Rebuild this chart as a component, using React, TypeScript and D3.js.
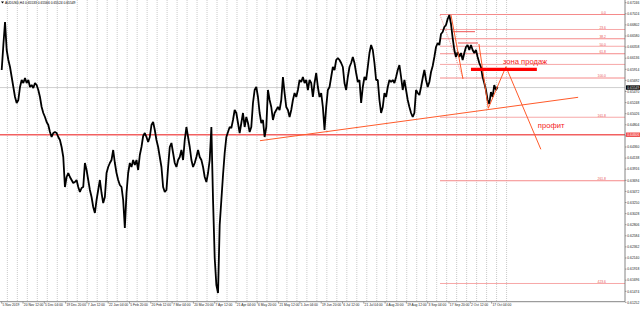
import React from "react";
import * as d3 from "d3";

const title = "AUDUSD,H4  0.65533 0.65566 0.65524 0.65549";

const dateLabels = [
  "5 Nov 2019", "20 Nov 12:00", "5 Dec 04:00", "19 Dec 20:00", "7 Jan 12:00", "22 Jan 04:00",
  "5 Feb 20:00", "20 Feb 12:00", "7 Mar 04:00", "20 Mar 20:00", "7 Apr 12:00", "21 Apr 04:00",
  "6 May 20:00", "21 May 12:00", "5 Jun 04:00", "19 Jun 20:00", "6 Jul 12:00", "21 Jul 04:00",
  "4 Aug 20:00", "19 Aug 12:00", "3 Sep 04:00", "17 Sep 20:00", "2 Oct 12:00", "17 Oct 04:00",
];
const barsPerLabel = 64;
const barsPerSample = 5;

// close prices, one every 5 H4 bars
const closes = [
  0.6590, 0.6640, 0.6686, 0.6630, 0.6610, 0.6596, 0.6576, 0.6556, 0.6536, 0.6524,
  0.6530, 0.6556, 0.6570, 0.6564, 0.6574, 0.6564, 0.6570, 0.6556, 0.6560, 0.6554,
  0.6564, 0.6560, 0.6550, 0.6536, 0.6516, 0.6504, 0.6496, 0.6486, 0.6480, 0.6466,
  0.6456, 0.6464, 0.6466, 0.6464, 0.6456, 0.6450, 0.6436, 0.6416, 0.6356, 0.6376,
  0.6384, 0.6376, 0.6370, 0.6364, 0.6366, 0.6370, 0.6356, 0.6346, 0.6354, 0.6356,
  0.6404, 0.6390, 0.6370, 0.6350, 0.6336, 0.6316, 0.6304, 0.6330, 0.6350, 0.6370,
  0.6344, 0.6324, 0.6336, 0.6384, 0.6396, 0.6404, 0.6410, 0.6430, 0.6404, 0.6384,
  0.6370, 0.6360, 0.6356, 0.6330, 0.6274, 0.6344, 0.6384, 0.6404, 0.6396, 0.6410,
  0.6400, 0.6410, 0.6390, 0.6420, 0.6436, 0.6458, 0.6464, 0.6456, 0.6446, 0.6456,
  0.6480, 0.6486, 0.6470, 0.6450, 0.6436, 0.6416, 0.6396, 0.6356, 0.6346, 0.6350,
  0.6396, 0.6436, 0.6444, 0.6424, 0.6404, 0.6396, 0.6410, 0.6416, 0.6430, 0.6410,
  0.6450, 0.6476, 0.6456, 0.6436, 0.6410, 0.6396, 0.6404, 0.6416, 0.6430, 0.6416,
  0.6410, 0.6396, 0.6376, 0.6366, 0.6384, 0.6410, 0.6476, 0.6330, 0.6214, 0.6160,
  0.6144, 0.6280, 0.6330, 0.6380, 0.6424, 0.6456, 0.6466, 0.6476, 0.6474, 0.6490,
  0.6510, 0.6504, 0.6484, 0.6464, 0.6484, 0.6504, 0.6476, 0.6496, 0.6484, 0.6466,
  0.6476, 0.6524, 0.6550, 0.6556, 0.6536, 0.6504, 0.6484, 0.6490, 0.6456, 0.6476,
  0.6550, 0.6530, 0.6516, 0.6490, 0.6504, 0.6510, 0.6516, 0.6510, 0.6530, 0.6576,
  0.6544, 0.6516, 0.6510, 0.6496, 0.6510, 0.6530, 0.6544, 0.6536, 0.6550, 0.6570,
  0.6566, 0.6576, 0.6564, 0.6570, 0.6550, 0.6570, 0.6564, 0.6536, 0.6564, 0.6584,
  0.6556, 0.6536, 0.6544, 0.6516, 0.6470, 0.6516, 0.6550, 0.6556, 0.6576, 0.6596,
  0.6590, 0.6610, 0.6614, 0.6610, 0.6604, 0.6596, 0.6564, 0.6550, 0.6576, 0.6596,
  0.6604, 0.6616, 0.6604, 0.6584, 0.6566, 0.6570, 0.6524, 0.6556, 0.6576, 0.6570,
  0.6596, 0.6624, 0.6640, 0.6630, 0.6604, 0.6570, 0.6570, 0.6530, 0.6504, 0.6516,
  0.6544, 0.6536, 0.6556, 0.6570, 0.6566, 0.6570, 0.6564, 0.6576, 0.6590, 0.6600,
  0.6576, 0.6550, 0.6570, 0.6550, 0.6530, 0.6516, 0.6504, 0.6496, 0.6504, 0.6550,
  0.6544, 0.6540, 0.6556, 0.6574, 0.6590, 0.6570, 0.6556, 0.6566, 0.6586, 0.6598,
  0.6616, 0.6636, 0.6644, 0.6640, 0.6662, 0.6666, 0.6676, 0.6680, 0.6692, 0.6700,
  0.6682, 0.6654, 0.6630, 0.6616, 0.6626, 0.6616, 0.6624, 0.6610, 0.6624, 0.6636,
  0.6640, 0.6630, 0.6640, 0.6630, 0.6624, 0.6630, 0.6616, 0.6604, 0.6596, 0.6576,
  0.6564, 0.6550, 0.6530, 0.6522, 0.6546, 0.6536, 0.6560, 0.6550, 0.6556,
];

const priceTicks = [
  0.67246, 0.67024, 0.66802, 0.6658, 0.66358, 0.66136, 0.65914, 0.65692, 0.6547, 0.65248,
  0.65026, 0.64804, 0.64582, 0.6436, 0.64138, 0.63916, 0.63694, 0.63472, 0.6325, 0.63028,
  0.62806, 0.62584, 0.62362, 0.6214, 0.61918, 0.61696, 0.61474, 0.61252,
];

const bidPrice = 0.65549;
const supportLevel = 0.64606;

const fibStartBar = 1317;
const fibHigh = 0.6701;
const fibLow = 0.6574;
const fibLevels = [0, 23.6, 38.2, 50, 61.8, 78.6, 100, 161.8, 261.8, 423.6];
const fibLabels = ["0.0", "23.6", "38.2", "50.0", "61.8", "", "100.0", "161.8", "261.8", "423.6"];

const gridStartBar = 17;
const gridStepBars = 30;
const gridCount = 51;

const trendLine: [number, number][] = [[776, 0.64486], [1732, 0.65354]];
const fibBase: [number, number][] = [[1317, 0.67], [1386, 0.6574]];
const drawnLegs: [number, number][][] = [
  [[1350, 0.67], [1386, 0.6572]],
  [[1434, 0.6642], [1462, 0.65134], [1515, 0.65966], [1620, 0.64314]],
];
const shortLevels = [
  { from: 1356, to: 1422, price: 0.66666 },
  { from: 1371, to: 1431, price: 0.6644 },
];
const sellZone = { from: 1410, to: 1608, price: 0.65914 };
const notes = [
  { text: "зона продаж", bar: 1506, price: 0.6602 },
  { text: "профит", bar: 1611, price: 0.6474 },
];

const W = 640;
const H = 309;
const plotRight = 625;
const plotBottom = 301.7;
const font = "'Liberation Sans', Arial, sans-serif";

export default function App() {
  const x = d3.scaleLinear().domain([0, barsPerLabel * (dateLabels.length - 1)]).range([1.7, 491.6]);
  const y = d3.scaleLinear().domain([0.673, 0.6126]).range([0, 302]);

  const line = d3
    .line<number>()
    .x((_, i) => x(i * barsPerSample))
    .y((d) => y(d));
  const segLine = d3
    .line<[number, number]>()
    .x((d) => x(d[0]))
    .y((d) => y(d[1]));

  const grid = d3.range(gridCount).map((n) => x(gridStartBar + n * gridStepBars));
  const fibPrice = (lv: number) => fibHigh - (lv / 100) * (fibHigh - fibLow);

  return (
    <svg
      width={W}
      height={H}
      style={{ position: "absolute", left: 0, top: 0, background: "#fff" }}
      fontFamily={font}
    >
      <defs>
        <clipPath id="plot">
          <rect x={0} y={0} width={plotRight} height={plotBottom} />
        </clipPath>
      </defs>
      <rect x={0} y={0} width={W} height={H} fill="#fff" />
      <g clipPath="url(#plot)">
        {grid.map((gx, i) => (
          <line key={i} x1={gx} x2={gx} y1={0} y2={plotBottom} stroke="#bcbcbc" strokeWidth={0.8} strokeDasharray="1 1" />
        ))}
        <line x1={0} x2={plotRight} y1={y(bidPrice)} y2={y(bidPrice)} stroke="#c4c4c4" strokeWidth={0.8} />
        {fibLevels.map((lv, i) => (
          <g key={i}>
            <line
              x1={x(fibStartBar)}
              x2={plotRight}
              y1={y(fibPrice(lv))}
              y2={y(fibPrice(lv))}
              stroke={i % 2 === 0 ? "#f58a8a" : "#f7a8a8"}
              strokeWidth={1}
            />
            {fibLabels[i] && (
              <text x={606} y={y(fibPrice(lv)) - 0.6} fontSize={3.4} fill="#e85a5a" textAnchor="end">
                {fibLabels[i]}
              </text>
            )}
          </g>
        ))}
        <line x1={0} x2={plotRight} y1={y(supportLevel)} y2={y(supportLevel)} stroke="#f26060" strokeWidth={1.5} />
        {shortLevels.map((s, i) => (
          <line key={i} x1={x(s.from)} x2={x(s.to)} y1={y(s.price)} y2={y(s.price)} stroke="#ef5050" strokeWidth={1} />
        ))}
        <path d={segLine(fibBase) || ""} fill="none" stroke="#f08080" strokeWidth={0.8} strokeDasharray="1 1" />
        <path d={line(closes) || ""} fill="none" stroke="#000" strokeWidth={1.8} strokeLinejoin="bevel" />
        <path d={segLine(trendLine) || ""} fill="none" stroke="#ff5a2a" strokeWidth={1} />
        {drawnLegs.map((leg, i) => (
          <path key={i} d={segLine(leg) || ""} fill="none" stroke="#ff5a2a" strokeWidth={1} />
        ))}
        <line x1={x(sellZone.from)} x2={x(sellZone.to)} y1={y(sellZone.price)} y2={y(sellZone.price)} stroke="#ff0000" strokeWidth={3.3} />
        {notes.map((n, i) => (
          <text key={i} x={x(n.bar)} y={y(n.price)} fontSize={7.6} fill="#f42020">
            {n.text}
          </text>
        ))}
      </g>
      <path d="M1,1.6 L4,1.6 L2.5,3.6 Z" fill="#000" />
      <text x={5} y={3.8} fontSize={3.3} fill="#000">
        {title}
      </text>
      <line x1={plotRight} x2={plotRight} y1={0} y2={plotBottom} stroke="#666" strokeWidth={0.8} />
      <line x1={0} x2={plotRight} y1={plotBottom} y2={plotBottom} stroke="#666" strokeWidth={0.8} />
      {priceTicks.map((p, i) => (
        <g key={i}>
          <line x1={plotRight} x2={plotRight + 1.5} y1={y(p)} y2={y(p)} stroke="#666" strokeWidth={0.6} />
          <text x={627.3} y={y(p) + 1.2} fontSize={3.3} fill="#222">
            {p.toFixed(5)}
          </text>
        </g>
      ))}
      <rect x={626} y={y(bidPrice) - 2.2} width={14} height={4.4} fill="#000" />
      <text x={627.3} y={y(bidPrice) + 1.2} fontSize={3.3} fill="#fff">
        {bidPrice.toFixed(5)}
      </text>
      <rect x={626} y={y(supportLevel) - 2.2} width={14} height={4.4} fill="#f24a4a" />
      <text x={627.3} y={y(supportLevel) + 1.2} fontSize={3.3} fill="#fff">
        {supportLevel.toFixed(5)}
      </text>
      {dateLabels.map((d, i) => {
        const tx = x(i * barsPerLabel);
        return (
          <g key={i}>
            <line x1={tx} x2={tx} y1={plotBottom} y2={plotBottom + 2} stroke="#666" strokeWidth={0.6} />
            <text x={tx + 0.8} y={305.8} fontSize={3.3} fill="#222">
              {d}
            </text>
          </g>
        );
      })}
    </svg>
  );
}
